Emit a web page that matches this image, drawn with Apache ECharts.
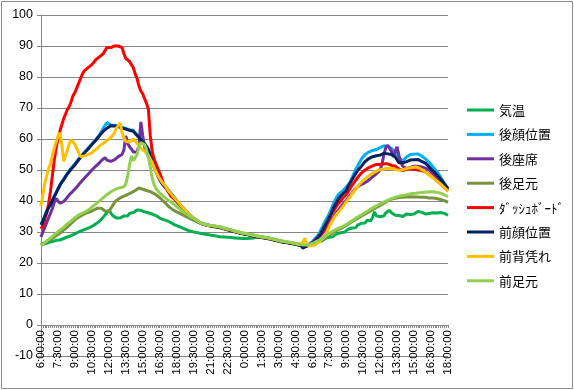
<!DOCTYPE html>
<html><head><meta charset="utf-8">
<script src="https://cdn.jsdelivr.net/npm/echarts@6/dist/echarts.min.js"></script>
<style>html,body{margin:0;padding:0;background:#fff}#c{width:574px;height:390px}</style>
</head><body><div id="c"></div>
<script>
// 10-minute categories from 6:00:00 to 18:00:00 next day
const categories = [];
for (let m = 0; m <= 36 * 60; m += 10) {
  const h = (6 + Math.floor(m / 60)) % 24;
  const mm = String(m % 60).padStart(2, '0');
  categories.push(h + ':' + mm + ':00');
}
const seriesNames = ['気温','後顔位置','後座席','後足元','ﾀﾞｯｼｭﾎﾞｰﾄﾞ','前顔位置','前背凭れ','前足元'];
const yTicks = [-10,0,10,20,30,40,50,60,70,80,90,100];

const kion = [25.8,26,26.2,26.3,26.6,26.8,26.9,27.1,27.3,27.2,
27.4,27.6,27.9,28.1,28.4,28.6,28.8,29.2,29.4,29.7,
30,30.3,30.5,30.8,31,31.2,31.5,31.8,32.2,32.6,
33,33.4,34,34.8,35.5,36.3,37,36.2,35.3,35,
34.5,34.2,34.5,34.8,35.2,35.5,35.2,36,35.7,36.3,
36.6,37.1,37.5,37,36.8,36.5,36.7,36.2,36,35.8,
35.5,35.3,34.9,34.5,34.2,34,33.8,33.6,33.3,33,
32.6,32.3,32,31.8,31.5,31.3,31,30.8,30.6,30.3,
30.2,30,29.9,29.8,29.6,29.5,29.4,29.3,29.2,29.1,
29,28.9,28.8,28.7,28.6,28.5,28.4,28.4,28.3,28.3,
28.2,28.2,28.1,28.1,28,28,28,27.9,27.9,27.9,
27.9,28,28,28.1,28.2,28.3,28.3,28.2,28.1,28,
27.9,27.8,27.7,27.5,27.4,27.2,27.1,26.9,26.8,26.7,
26.6,26.5,26.4,26.3,26.2,26,25.9,25.8,25.7,25.5,
25.5,25.6,25.8,26,26.2,26.5,26.8,27,27.3,27.1,
27.6,28,27.8,28.3,28.7,28.5,29.1,29.4,29.2,29.8,
30.2,29.9,30.5,30.9,30.6,31.3,31.8,31.4,32.2,31.8,
32.8,33.4,32.9,33.8,34.2,33.6,34.8,36.5,35.2,35.8,
34.9,35.5,35.2,36.2,35.6,37,36.2,35.8,35.4,35.9,
35.3,35.6,35,35.4,35.8,35.3,35.6,36.1,35.8,36.3,
36.6,37,36.4,36.2,35.8,36.3,36,36.5,36.2,36.6,
36.1,35.9,36.3,35.8,36,35.6,35.4];

const atoFace = [32.5,33.8,35.3,36.8,38,39,40.3,41.6,42.8,44,
45.2,46.2,47.1,48,49,49.8,50.5,51.3,52,52.8,
53.6,54.3,55,55.7,56.3,57,57.7,58.4,59,59.7,
60.6,61.4,62.3,63.5,64.4,65.3,64.8,64.5,64.3,64.4,
64.2,64.3,64,63.8,63.7,63.4,63.3,63,63,62.8,
62,61.5,60.8,60,59.3,58.6,57.8,56.8,54.8,53.2,
51.7,50.2,48.7,47.2,46.2,45.4,44.7,44,43.2,42.5,
41.7,41,40.2,39.5,38.7,38,37.2,36.6,36,35.4,
34.9,34.4,34,33.6,33.2,32.9,32.7,32.5,32.4,32.2,
32.1,32,31.9,31.8,31.7,31.6,31.4,31.2,31.1,30.9,
30.7,30.6,30.4,30.2,30.1,29.9,29.7,29.6,29.5,29.4,
29.3,29.1,29,28.9,28.8,28.6,28.5,28.4,28.3,28.2,
28.1,28,27.9,27.7,27.6,27.4,27.3,27.1,27,26.9,
26.8,26.7,26.6,26.5,26.4,26.2,26.1,26,25.9,25.7,
25.4,25.7,26,26.4,26.9,27.5,28.2,29,30,31.2,
32.5,33.7,34.8,36,37.4,38.8,40.2,41.3,42.2,42.8,
43.2,43.8,44.5,45.2,46,47.4,48.8,50.2,51.3,52.4,
53.5,54.3,55,55.4,55.8,56,56.3,56.2,56.6,57,
57.2,57.5,57.8,57.3,57.6,57.5,57,56.5,55.8,55,
53.8,53.2,53,53.6,54.2,54.8,55,55.3,55.1,55.5,
55.2,54.8,54.5,54,53.6,53,52.5,51.8,51,50.3,
49.5,48.8,47.8,46.8,45.8,44.8,44];

const atoSeat = [28.4,30,31.5,33,34.5,36,37.5,39.5,40.8,40,
39.3,39.5,39.8,40.5,41.2,42,42.6,43.2,43.8,44.5,
45.3,46,46.7,47.3,48,48.6,49.3,50,50.5,51.2,
51.7,52.3,53,53.6,54,53.2,52.6,52.8,53,53.3,
53.8,54.3,54.5,55,56.5,61,58.5,57.5,56.8,55.8,
55.5,55.8,58,65.5,61,57.5,55.5,55,53.5,52.5,
51,49.5,48,46.8,45.8,45,44.3,43.6,42.9,42.2,
41.5,40.7,40,39.3,38.6,37.9,37.2,36.5,35.9,35.3,
34.8,34.3,33.9,33.5,33.1,32.8,32.6,32.4,32.2,32.1,
32,31.9,31.8,31.7,31.6,31.5,31.3,31.1,31,30.8,
30.6,30.5,30.3,30.1,30,29.8,29.6,29.5,29.4,29.3,
29.2,29,28.9,28.8,28.7,28.5,28.4,28.3,28.2,28.1,
28,27.9,27.8,27.6,27.5,27.3,27.2,27,26.9,26.8,
26.7,26.6,26.5,26.4,26.3,26.1,26,25.9,25.8,25.6,
25.6,25.7,25.9,26.2,26.5,27,27.5,28,28.6,29.3,
30,30.8,31.7,32.7,33.6,34.6,35.5,36.5,37.2,38,
38.8,39.5,40.2,41,41.8,42.5,43.3,44,44.5,45,
45.3,45.6,46,46.3,46.8,47.3,47.8,48.3,48.8,49.3,
50,52,55,57.3,58,58.2,56,54.3,56,57.5,
54.5,52.5,51.2,50.8,50.5,50.6,50.8,51,51.2,51,
51.2,51,51,50.8,50.6,50.4,50,49.4,48.8,48.2,
47.6,47,46.5,45.8,45.2,44.5,43.8];

const atoFoot = [26,26.3,26.6,26.9,27.2,27.5,27.9,28.4,28.8,29.2,
29.6,30.1,30.6,31.1,31.6,32.2,32.8,33.3,33.9,34.4,
34.8,35.2,35.5,35.8,36.1,36.3,36.5,36.8,37.1,37.4,
37.7,38,37.7,37.2,36.8,36.5,36.7,37.5,38.5,39.5,
40.2,40.6,41,41.3,41.6,41.9,42.1,42.4,42.7,43,
43.4,43.8,44.2,44.1,43.8,43.5,43.4,43.2,43,42.7,
42.4,42,41.6,41.1,40.5,39.9,39.3,38.7,38.1,37.6,
37.2,36.8,36.5,36.2,35.9,35.6,35.3,35,34.7,34.4,
34.1,33.8,33.5,33.2,33,32.8,32.6,32.4,32.3,32.1,
32.1,32,31.9,31.8,31.7,31.6,31.4,31.2,31.1,30.9,
30.7,30.6,30.4,30.2,30.1,29.9,29.7,29.6,29.5,29.4,
29.3,29.1,29,28.9,28.8,28.6,28.5,28.4,28.3,28.2,
28.1,28,27.9,27.7,27.6,27.4,27.3,27.1,27,26.9,
26.8,26.7,26.6,26.5,26.4,26.2,26.1,26,25.9,25.7,
25.7,25.7,25.8,25.9,26.1,26.3,26.6,26.9,27.2,27.5,
27.8,28.2,28.6,29,29.4,29.8,30.2,30.5,30.8,31.1,
31.4,31.7,32.1,32.5,32.9,33.3,33.7,34,34.4,34.8,
35.1,35.4,35.8,36.2,36.5,36.8,37.2,37.5,37.9,38.2,
38.6,38.9,39.3,39.6,40,40.3,40.6,40.8,40.9,41,
41.1,41.2,41.2,41.3,41.3,41.3,41.4,41.4,41.3,41.4,
41.3,41.3,41.2,41.3,41.2,41.1,41,41,41,40.9,
40.8,40.6,40.5,40.3,40.1,39.9,39.6];

const dashboard = [31,32,34,36,39,43,48,53,57,60,
62.5,64.5,66.5,68,69.5,70.5,72,74,75,76.5,
78,79.5,81,82,82.5,83,83.5,84,84.5,85.5,
86,86.5,87,87.5,88.5,89.5,89.5,89.5,90,90,
89.5,90,89.5,89.5,87.5,86,85.5,85,84,83,
81,79.5,77,75.5,74.5,73,71.5,69.5,61,56,
53.5,52,50.5,49,47.5,45.5,44.5,43.5,42.5,41.5,
41,40.5,39.8,39.2,38.7,38,37.3,36.6,36,35.5,
35,34.5,34,33.5,33,32.8,32.6,32.4,32.3,32.1,
32,31.9,31.8,31.7,31.6,31.5,31.3,31.1,31,30.8,
30.6,30.5,30.3,30.1,30,29.8,29.6,29.5,29.4,29.3,
29.2,29,28.9,28.8,28.7,28.5,28.4,28.3,28.2,28.1,
28,27.9,27.8,27.6,27.5,27.3,27.2,27,26.9,26.8,
26.7,26.6,26.5,26.4,26.3,26.1,26,25.9,25.8,25.6,
25.5,25.3,25.6,26,26.5,27,27.7,28.3,29,29.8,
30.6,31.8,33,34.3,35.5,36.5,37.5,38.5,39.3,40,
40.8,41.3,42,43,44,45,45.8,46.7,47.5,48.3,
49,49.5,50,50.3,50.8,51,51.3,51.6,51.8,52,
51.8,52,52,52.2,52,51.6,51.5,51,51.2,50.7,
50.3,50,49.8,50,50.3,50.5,50.3,50.5,50.2,50,
50,50,49.8,49.5,49.4,49,48.5,48,47.6,47,
46.6,46,45.5,45,44.4,43.8,43.2];

const maeFace = [32.3,33.5,35,36.5,37.8,38.7,40,41.3,42.5,43.8,
45,46,46.8,47.8,48.7,49.5,50.3,51,51.7,52.5,
53.3,54,54.8,55.5,56,56.8,57.5,58.2,58.8,59.5,
60.3,61,61.8,62.5,63,63.5,64,64.3,64,64.2,
64,64,63.8,63.5,63.5,63.2,63,62.8,62.8,62.5,
61.8,61.3,60.5,59.8,59,58.3,57.5,56.5,54.5,53,
51.5,50,48.5,47,46,45.2,44.5,43.8,43,42.3,
41.5,40.8,40,39.3,38.5,37.8,37,36.4,35.8,35.2,
34.7,34.2,33.8,33.4,33,32.7,32.5,32.3,32.2,32,
31.9,31.8,31.7,31.6,31.5,31.4,31.2,31,30.9,30.7,
30.5,30.4,30.2,30,29.9,29.7,29.5,29.4,29.3,29.2,
29.1,28.9,28.8,28.7,28.6,28.4,28.3,28.2,28.1,28,
27.9,27.8,27.7,27.5,27.4,27.2,27.1,26.9,26.8,26.7,
26.6,26.5,26.4,26.3,26.2,26,25.9,25.8,25.6,24.8,
25.2,25.5,25.8,26,26.3,26.9,27.6,28.3,29,30.2,
31.3,32.4,33.6,34.8,36,37.5,38.7,39.8,40.8,41.5,
42.2,42.8,43.5,44.8,45.8,46.8,47.8,48.8,49.8,50.5,
51.2,52,52.7,53.2,53.7,54,54.3,54.2,54.6,54.8,
54.8,55.2,55.4,55.5,55.2,55.4,55,54.8,54.2,53.6,
52.3,52,52.3,52.5,52.7,53,53.2,53,53.3,53.2,
53.4,53.2,52.8,52.5,52.2,51.8,51,50.3,49.8,49.2,
48.5,47.8,47.2,46.4,45.6,44.8,44];

const maeBack = [38.5,42,45.7,48,50.5,52,54.5,57,59,61,
62,58.5,52.8,54.5,56.5,58.5,59.7,59,58.3,57,
55.5,54.3,54.2,54.5,54.7,55,55.4,55.5,56.2,56.5,
57,57.7,58.2,58.6,59,59.5,60,60.4,60.8,62,
63.5,64.3,65.2,62,60.5,59.2,58.6,59,59.5,60,
59.8,58.6,57.6,57,56.5,56,55.5,54.8,53.5,52.5,
51,49.5,48.3,47.2,46.3,45.5,44.8,43.8,43,42.3,
41.5,40.8,40.2,39.5,38.7,38,37.3,36.6,36,35.5,
35,34.5,34,33.5,33,32.8,32.6,32.4,32.2,32.1,
32.1,32,31.9,31.8,31.7,31.6,31.4,31.2,31.1,30.9,
30.7,30.6,30.4,30.2,30.1,29.9,29.7,29.6,29.5,29.4,
29.3,29.1,29,28.9,28.8,28.6,28.5,28.4,28.3,28.2,
28.1,28,27.9,27.7,27.6,27.4,27.3,27.1,27,26.9,
26.8,26.7,26.6,26.5,26.4,26.2,26.1,26,25.9,26.6,
28,26.3,25.6,25.5,25.6,25.8,26.1,26.5,27,27.5,
28.2,29.2,30.3,31.8,33,34,35,35.8,36.5,37.3,
38,38.8,39.7,40.5,41.3,42.2,43,43.8,44.6,45.4,
46,46.6,47.2,47.7,48.2,48.6,49,49.3,49.6,49.9,
50,50.2,50.3,50.5,50.6,50.5,50.6,50.4,50.2,50,
49.8,49.9,50.1,50.3,50.4,50.6,50.7,50.8,51,51,
50.8,50.5,50.2,49.8,49.3,48.8,48.4,48,47.5,47,
46.5,46,45.5,45,44.4,43.8,43.2];

const maeFoot = [25.5,26,26.6,27.1,27.6,28,28.5,29,29.6,30.1,
30.6,31.1,31.5,32,32.6,33.2,33.6,34.1,34.6,35.1,
35.5,35.8,36.1,36.4,36.7,37,37.5,38,38.5,39.1,
39.5,39.9,40.5,41,41.6,42.1,42.5,42.9,43.3,43.6,
43.9,44.2,44.3,44.4,44.6,45.5,48,51.8,54.5,53,
52.5,55,57.5,58.8,58.5,58.2,56.5,54,51,47.5,
45.3,44,43.3,42.6,42,41.5,41,40.5,40.1,39.7,
39.2,38.7,38.2,37.7,37.1,36.7,36.3,35.9,35.5,35.1,
34.7,34.3,33.9,33.5,33.1,32.9,32.7,32.5,32.3,32.2,
32.2,32.1,32,31.9,31.8,31.7,31.5,31.3,31.2,31,
30.8,30.7,30.5,30.3,30.2,30,29.8,29.7,29.6,29.5,
29.4,29.2,29.1,29,28.9,28.7,28.6,28.5,28.4,28.3,
28.2,28.1,28,27.8,27.7,27.5,27.4,27.2,27.1,27,
26.9,26.8,26.7,26.6,26.5,26.3,26.2,26.1,26,25.8,
25.8,25.8,25.9,26.1,26.3,26.6,26.9,27.2,27.5,27.9,
28.3,28.7,29.1,29.5,29.9,30.3,30.6,30.9,31.2,31.5,
31.8,32.1,32.4,32.8,33.2,33.6,34,34.4,34.8,35.2,
35.6,35.9,36.3,36.6,37,37.4,37.7,38.1,38.4,38.8,
39.1,39.4,39.7,40,40.3,40.5,40.8,41,41.2,41.4,
41.5,41.7,41.8,41.9,42.1,42.2,42.3,42.4,42.5,42.5,
42.6,42.7,42.7,42.8,42.8,42.9,42.9,43,42.9,42.9,
42.8,42.7,42.5,42.3,42,41.7,41.4];

const seriesData = [kion, atoFace, atoSeat, atoFoot, dashboard, maeFace, maeBack, maeFoot];
const colors = ['#00B050','#00B0F0','#7030A0','#77933C','#FF0000','#002060','#FFC000','#92D050'];

const chart = echarts.init(document.getElementById('c'), null, {renderer: 'canvas'});
chart.setOption({
  animation: false,
  backgroundColor: '#fff',
  color: colors,
  graphic: [{
    type: 'rect', silent: true, z: -1,
    shape: {x: 1.5, y: 1.5, width: 571, height: 387},
    style: {fill: 'none', stroke: '#8c8c8c', lineWidth: 1}
  }],
  grid: {left: 41, right: 126, top: 15, bottom: 34, containLabel: false, outerBoundsMode: 'none'},
  legend: {
    orient: 'vertical', left: 462, top: 97,
    icon: 'rect', itemWidth: 27, itemHeight: 3, itemGap: 8.4,
    textStyle: {fontSize: 13, lineHeight: 16, color: '#000', fontFamily: '"Noto Sans CJK JP", sans-serif'},
    data: seriesNames
  },
  xAxis: {
    type: 'category', data: categories, boundaryGap: false,
    position: 'bottom', offset: -31,
    axisLine: {onZero: false, lineStyle: {color: '#868686', width: 1}},
    axisTick: {show: true, interval: 0, length: 3, lineStyle: {color: '#868686'}},
    axisLabel: {interval: 8, rotate: 90, margin: 5, fontSize: 11.5, color: '#000', fontFamily: '"Liberation Sans", Arial, sans-serif'},
    splitLine: {show: false}
  },
  yAxis: {
    type: 'value', min: yTicks[0], max: yTicks[yTicks.length - 1], interval: 10,
    axisLine: {show: true, lineStyle: {color: '#868686', width: 1}},
    axisTick: {show: true, length: 4, lineStyle: {color: '#868686'}},
    axisLabel: {fontSize: 12.5, color: '#000', margin: 8, fontFamily: '"Liberation Sans", Arial, sans-serif'},
    splitLine: {show: true, lineStyle: {color: '#868686', width: 1}}
  },
  series: seriesNames.map((name, k) => ({
    name, type: 'line', data: seriesData[k], showSymbol: false, symbol: 'none',
    lineStyle: {width: 3, color: colors[k]}, itemStyle: {color: colors[k]},
    smooth: false
  }))
});
</script></body></html>
